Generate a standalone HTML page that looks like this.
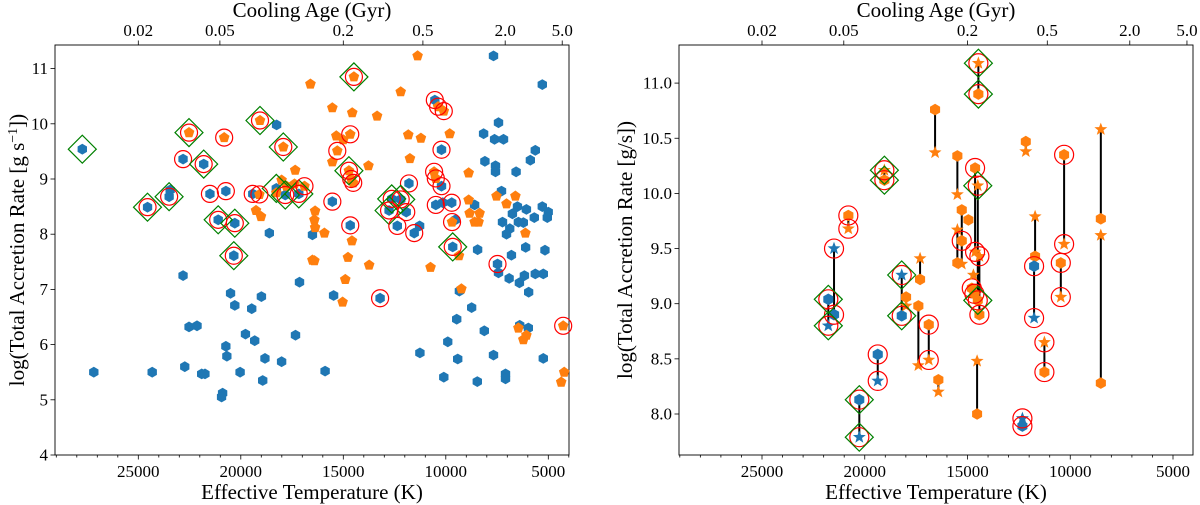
<!DOCTYPE html>
<html><head><meta charset="utf-8">
<style>
html,body{margin:0;padding:0;background:#fff;}
svg{display:block;}
svg text{font-family:"Liberation Serif","Times New Roman",serif;}
</style></head>
<body>
<svg id="fig" width="1200" height="505" viewBox="0 0 1200 505" xmlns="http://www.w3.org/2000/svg"></svg>
<script>
// ---------- LEFT PANEL DATA ----------
const blueT = [27733,22816,21811,21506,20729,23496,23447,24549,21103,20292,20341,18608,18253,19418,18268,17831,17171,17137,22816,20501,20292,18996,19467,22525,22137,19773,19321,20729,20680,18821,18010,17331,27170,24321,22734,21908,21748,20035,18933,20889,20938,
7672,5293,10535,7429,8157,7623,7186,10210,5633,5876,8093,7575,7575,6570,11797,10210,7283,10487,10147,9710,8594,6506,6069,5293,5002,5050,5682,6750,6458,7235,6216,6880,7040,15535,12637,12200,12768,11929,12366,11540,11279,9531,14661,16505,6104,5163,9662,8448,6798,7478,7429,6909,6167,6410,5633,5245,5958,15472,13205,9337,8740,9468,8122,6395,5973,9904,11263,9419,7672,5245,15889,10098,8463,7089,7089];
const blueRate = [9.54,9.36,9.27,8.73,8.78,8.68,8.80,8.49,8.26,8.20,7.61,8.02,9.98,8.73,8.83,8.71,8.73,7.13,7.25,6.93,6.71,6.87,6.65,6.32,6.34,6.19,6.07,5.97,5.79,5.75,5.69,6.17,5.50,5.50,5.60,5.47,5.47,5.50,5.35,5.12,5.05,
11.23,10.71,10.43,10.02,9.82,9.72,9.72,9.53,9.52,9.34,9.32,9.24,9.13,9.13,8.92,8.87,8.78,8.53,8.57,8.57,8.53,8.50,8.45,8.50,8.40,8.30,8.30,8.37,8.22,8.22,8.21,8.10,8.00,8.59,8.64,8.63,8.43,8.40,8.15,8.02,8.15,8.26,8.16,7.99,7.76,7.71,7.77,7.72,7.62,7.46,7.30,7.20,7.25,7.12,7.28,7.28,6.95,6.89,6.84,6.97,6.67,6.46,6.25,6.35,6.30,6.05,5.85,5.74,5.81,5.75,5.52,5.41,5.33,5.47,5.38];
const blueFlag = ['d','c','cd','c','c','cd','','cd','cd','cd','cd','','','c','d','cd','cd','','','','','','','','','','','','','','','','','','','','','','','','',
'','','c','','','','','c','','','','','','','c','c','','c','','c','','','','','','','','','','','','','','c','cd','cd','cd','c','c','c','','','c','','','','cd','','','c','','','','','','','','','c','','','','','','','','','','','','','','','',''];
const orangeT = [22525,20811,19063,17927,16603,17346,18010,17768,17380,16894,18268,19093,19258,19015,16505,11375,14482,15535,14564,13351,12200,10375,10098,11831,11215,9808,15341,14999,14661,15293,15535,13773,11749,14725,14613,14516,10570,10487,8885,8885,8837,8351,8594,8400,7526,6604,7040,16375,16409,16375,15923,9695,6118,14579,16409,14773,13739,10745,9357,14904,15035,9238,6457,6069,6216,4274,4225,4370];
const orangeRate = [9.84,9.75,10.06,9.58,10.72,9.16,8.98,8.87,8.91,8.87,8.75,8.72,8.43,8.32,7.53,11.23,10.85,10.29,10.20,10.14,10.58,10.31,10.23,9.80,9.74,9.82,9.78,9.71,9.81,9.51,9.31,9.24,9.37,9.15,9.00,8.93,9.13,9.01,9.11,8.62,8.38,8.38,8.22,8.22,8.69,8.69,8.55,8.42,8.26,8.12,8.02,8.22,8.02,7.88,7.52,7.58,7.44,7.40,7.61,7.18,6.77,7.01,6.30,6.17,6.09,6.34,5.50,5.32];
const orangeFlag = ['cd','c','cd','cd','','','','','','c','','c','','','','','cd','','','','','c','c','','','','','','c','c','','','','cd','c','c','c','c','','','','','','','','','','','','','','c','','','','','','','','','','','','','','c','',''];

// ---------- RIGHT PANEL DATA ----------
const pairT     = [16578,19046,20799,21495,21773,18200,17308,17990,17391,16885,19368,20264,16418,14471,12163,15493,14631,14500,14422,15279,15493,11711,11760,10299,10459,11258,8512,8512,14533,12328];
const pairHex   = [10.76,10.12,9.80,8.90,9.04,8.89,9.22,9.06,8.98,8.81,8.54,8.13,8.31,10.90,10.47,10.34,10.23,9.03,8.90,9.85,9.37,9.43,9.34,10.35,9.37,8.38,9.77,8.28,8.00,7.89];
const pairStar  = [10.37,10.21,9.68,9.50,8.80,9.26,9.41,8.98,8.44,8.49,8.30,7.79,8.20,11.18,10.38,9.99,9.47,10.07,9.43,9.36,9.67,9.79,8.87,9.54,9.06,8.65,10.58,9.62,8.48,7.96];
const pairGroup = ['o','o','o','b','b','b','o','o','o','o','b','b','o','o','o','o','o','o','o','o','o','o','b','o','o','o','o','o','o','b'];
const pairCirc  = [0,1,1,1,1,1,0,0,0,1,1,1,0,1,0,0,1,1,1,0,0,0,1,1,1,1,0,0,0,1];
const pairDiam  = [0,1,0,0,1,1,0,0,0,0,0,1,0,1,0,0,0,1,0,0,0,0,0,0,0,0,0,0,0,0];
const singleHexT = [15279,14957,14792,14665];
const singleHexRate = [9.57,9.76,9.14,9.09];
const singleHexCirc = [1,0,1,1];
const singleStarT = [14714];
const singleStarRate = [9.26];

const xTickVals = [25000,20000,15000,10000,5000];
const xTickLabels = ['25000','20000','15000','10000','5000'];
const ageTickT = [25000,21020,15000,11117,7103,4321];
const ageTickLabels = ['0.02','0.05','0.2','0.5','2.0','5.0'];
const yLeftTicks = [4,5,6,7,8,9,10,11];
const yLeftLabels = ['4','5','6','7','8','9','10','11'];
const yRightTicks = [8.0,8.5,9.0,9.5,10.0,10.5,11.0];
const yRightLabels = ['8.0','8.5','9.0','9.5','10.0','10.5','11.0'];

const BLUE='#1f77b4', ORANGE='#ff7f0e';
const FF='"Liberation Serif","Times New Roman",serif';
const NS='http://www.w3.org/2000/svg';
const svg=document.getElementById('fig');
function mk(tag,attrs,parent){const e=document.createElementNS(NS,tag);for(const k in attrs)e.setAttribute(k,attrs[k]);if(tag==='text')e.setAttribute('font-family',FF);(parent||svg).appendChild(e);return e;}

const L={x0:55,x1:569,y0:45,y1:455, xs:T=>138.3+(25000-T)*0.0205, ys:v=>455-(v-4)*55.2};
const R={x0:679,x1:1193,y0:45,y1:455, xs:T=>762+(25000-T)*0.02055, ys:v=>414-(v-8)*110.3};

function polyPts(cx,cy,r,n,rot){let p=[];for(let i=0;i<n;i++){const a=rot+i*2*Math.PI/n;p.push((cx+r*Math.cos(a)).toFixed(1)+','+(cy+r*Math.sin(a)).toFixed(1));}return p.join(' ');}
function starPts(cx,cy,r){let p=[];for(let i=0;i<10;i++){const a=-Math.PI/2+i*Math.PI/5;const rr=i%2?r*0.42:r;p.push((cx+rr*Math.cos(a)).toFixed(1)+','+(cy+rr*Math.sin(a)).toFixed(1));}return p.join(' ');}
function hexMark(g,cx,cy,r,col){return mk('polygon',{points:polyPts(cx,cy,r,6,-Math.PI/2),fill:col},g);}
function pentMark(g,cx,cy,r,col){return mk('polygon',{points:polyPts(cx,cy,r,5,-Math.PI/2),fill:col},g);}
function starMark(g,cx,cy,r,col){return mk('polygon',{points:starPts(cx,cy,r),fill:col},g);}
function circ(g,cx,cy,r){return mk('circle',{cx:cx,cy:cy,r:r,fill:'none',stroke:'#ff0000','stroke-width':1.2},g);}
function diam(g,cx,cy,r){return mk('polygon',{points:polyPts(cx,cy,r,4,0),fill:'none',stroke:'#008000','stroke-width':1.2},g);}

function axes(P,yTicks,yLabels,pfx){
  const g=mk('g',{});
  
  
  for(let T=29000;T>=4000;T-=1000){const x=P.xs(T);if(x<P.x0||x>P.x1)continue;
    const major=T%5000===0;
    mk('line',{x1:x,x2:x,y1:P.y1,y2:P.y1+(major?4.5:2.5),stroke:'#000','stroke-width':0.8},g);}
  xTickVals.forEach((T,i)=>{const t=mk('text',{x:P.xs(T),y:P.y1+22,'font-size':17,'text-anchor':'middle'},g);t.textContent=xTickLabels[i];
    
    });
  ageTickT.forEach((T,i)=>{const x=P.xs(T);mk('line',{x1:x,x2:x,y1:P.y0,y2:P.y0-4.5,stroke:'#000','stroke-width':0.8},g);
    const t=mk('text',{x:x,y:P.y0-9,'font-size':17,'text-anchor':'middle'},g);t.textContent=ageTickLabels[i];
    
    });
  yTicks.forEach((v,i)=>{const y=P.ys(v);mk('line',{x1:P.x0,x2:P.x0-4.5,y1:y,y2:y,stroke:'#000','stroke-width':0.8},g);
    const t=mk('text',{x:P.x0-7,y:y+5.5,'font-size':17,'text-anchor':'end'},g);t.textContent=yLabels[i];
    
    });
  const xl=mk('text',{x:(P.x0+P.x1)/2,y:499,'font-size':21,'text-anchor':'middle'},g);xl.textContent='Effective Temperature (K)';
  
  
  const tl=mk('text',{x:(P.x0+P.x1)/2,y:17,'font-size':21,'text-anchor':'middle'},g);tl.textContent='Cooling Age (Gyr)';
  
  
  const cx=pfx==='left'?24:632;
  const yl=mk('text',{x:cx,y:250,'font-size':21,'text-anchor':'middle',transform:`rotate(-90 ${cx} 250)`},g);
  
  
  if(pfx==='left'){yl.innerHTML='log(Total Accretion Rate [g s<tspan dy="-7" font-size="14">−1</tspan><tspan dy="7">])</tspan>';}
  else yl.textContent='log(Total Accretion Rate [g/s])';
  mk('rect',{x:P.x0,y:P.y0,width:P.x1-P.x0,height:P.y1-P.y0,fill:'none',stroke:'#000','stroke-width':0.9},g);
  return g;
}

// LEFT
axes(L,yLeftTicks,yLeftLabels,'left');
const gl=mk('g',{});


blueT.forEach((T,i)=>{const m=hexMark(gl,L.xs(T),L.ys(blueRate[i]),5.4,BLUE);
  
  });
orangeT.forEach((T,i)=>{const m=pentMark(gl,L.xs(T),L.ys(orangeRate[i]),5.6,ORANGE);
  
  });
function flagsDraw(Ts,Rs,Fs){Ts.forEach((T,i)=>{const x=L.xs(T),y=L.ys(Rs[i]);
  if(Fs[i].includes('c')){const c=circ(gl,x,y,8.5);}
  if(Fs[i].includes('d')){const d=diam(gl,x,y,14);}});}
flagsDraw(blueT,blueRate,blueFlag);
flagsDraw(orangeT,orangeRate,orangeFlag);

// RIGHT
axes(R,yRightTicks,yRightLabels,'right');
const gr=mk('g',{});


pairT.forEach((T,i)=>{const x=R.xs(T);
  const ln=mk('line',{x1:x,x2:x,y1:R.ys(pairHex[i]),y2:R.ys(pairStar[i]),stroke:'#000','stroke-width':2},gr);
  
  });
pairT.forEach((T,i)=>{const x=R.xs(T);const col=pairGroup[i]==='b'?BLUE:ORANGE;
  const h=hexMark(gr,x,R.ys(pairHex[i]),5.8,col);
  
  
  const s=starMark(gr,x,R.ys(pairStar[i]),6.8,col);
  
  });
singleHexT.forEach((T,i)=>{const h=hexMark(gr,R.xs(T),R.ys(singleHexRate[i]),5.8,ORANGE);
  
  
  if(singleHexCirc[i]){const c=circ(gr,R.xs(T),R.ys(singleHexRate[i]),9.5);}});
singleStarT.forEach((T,i)=>{const s=starMark(gr,R.xs(T),R.ys(singleStarRate[i]),6.8,ORANGE);
  
  });
pairT.forEach((T,i)=>{const x=R.xs(T);
  [pairHex[i],pairStar[i]].forEach(v=>{const y=R.ys(v);
    if(pairCirc[i]){const c=circ(gr,x,y,9.5);}
    if(pairDiam[i]){const d=diam(gr,x,y,14);}});});
</script>
</body></html>
